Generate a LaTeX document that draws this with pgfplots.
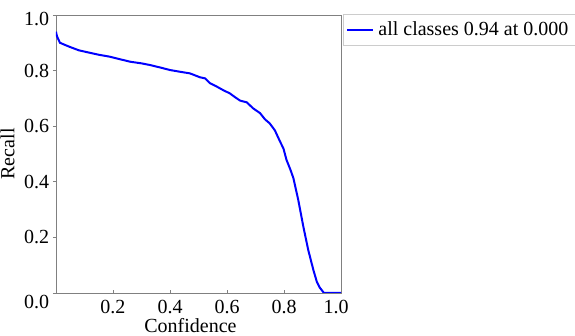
\documentclass[border=0pt]{standalone}
\usepackage{fontspec}
\setmainfont{Liberation Serif}
\newfontfamily\tnr{Liberation Serif}
\usepackage{pgfplots}
\pgfplotsset{compat=1.18}
\definecolor{axgray}{RGB}{128,128,128}
\definecolor{leggray}{RGB}{204,204,204}
\begin{document}
\tnr\fontsize{20}{24}\selectfont
\begin{tikzpicture}[font=\tnr\fontsize{20}{24}\selectfont]
\begin{axis}[
  scale only axis,
  width=285pt, height=278pt,
  xmin=0, xmax=1, ymin=0, ymax=1,
  xtick={0.2,0.4,0.6,0.8,1.0},
  ytick={0,0.2,0.4,0.6,0.8,1.0},
  xticklabels={0.2,0.4,0.6,0.8,\hspace*{-10pt}1.0},
  yticklabels={\raisebox{-15.6pt}[0pt][0pt]{0.0},0.2,0.4,0.6,0.8,\raisebox{-10.6pt}[0pt][0pt]{1.0}},
  xtick pos=bottom, ytick pos=left,
  tick align=inside,
  major tick length=3pt,
  ytick style={xshift=-3pt},
  tick style={axgray, line width=0.6pt},
  axis line style={axgray, line width=0.8pt},
  /pgf/number format/assume math mode=true,
  tick label style={font=\tnr\fontsize{20}{24}\selectfont},
  label style={font=\tnr\fontsize{20}{24}\selectfont},
  xlabel={Confidence}, ylabel={Recall},
  xlabel style={yshift=9pt, xshift=-8pt},
  ylabel style={yshift=-4pt},
  legend style={at={(axis description cs:1.007,1.004)}, anchor=north west,
    draw=leggray, line width=0.8pt, font=\tnr\fontsize{20}{24}\selectfont,
    inner xsep=3pt, inner ysep=5pt,
    nodes={inner xsep=4pt}},
  legend cell align=left,
  legend image code/.code={\draw[#1, line width=2pt] (0pt,0pt) -- (26pt,0pt);},
]
\addplot[blue, line width=2pt] coordinates {
(0.000,0.94) (0.003,0.925) (0.007,0.915) (0.014,0.900) (0.030,0.893)
(0.049,0.885) (0.080,0.873) (0.119,0.864) (0.150,0.857) (0.189,0.850)
(0.220,0.842) (0.260,0.832) (0.300,0.826) (0.330,0.820) (0.370,0.810)
(0.400,0.802) (0.440,0.795) (0.470,0.790) (0.505,0.776) (0.523,0.772)
(0.540,0.755) (0.565,0.742) (0.586,0.730) (0.610,0.718) (0.630,0.703)
(0.646,0.692) (0.669,0.686) (0.692,0.664) (0.716,0.647) (0.733,0.625)
(0.750,0.610) (0.768,0.585) (0.786,0.545) (0.798,0.520) (0.809,0.478)
(0.822,0.445) (0.833,0.413) (0.850,0.335) (0.868,0.238) (0.885,0.155)
(0.903,0.083) (0.915,0.041) (0.925,0.020) (0.932,0.011) (0.940,0.000)
(1.000,0.000)
};
\addlegendentry{all classes 0.94 at 0.000\hspace*{12pt}}
\end{axis}
\pgfresetboundingbox
\path[use as bounding box] (-56pt,-43pt) rectangle (519pt,293pt);
\end{tikzpicture}
\end{document}
